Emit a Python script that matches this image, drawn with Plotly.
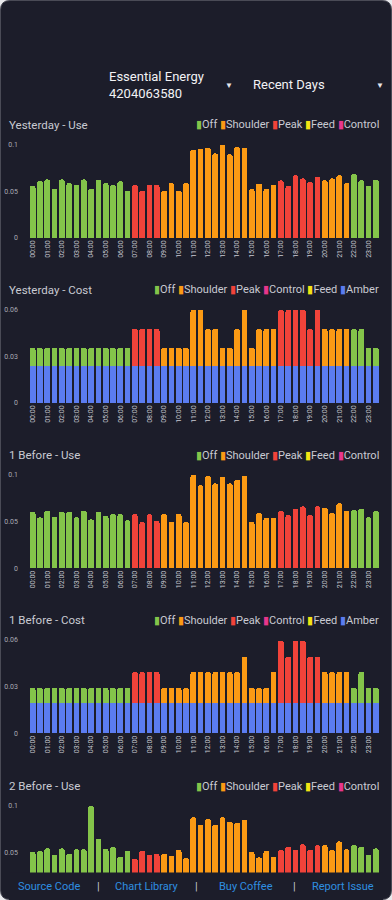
import plotly.graph_objects as go

# ---------------- data ----------------
slots = ["00:00", "00:30", "01:00", "01:30", "02:00", "02:30", "03:00", "03:30",
         "04:00", "04:30", "05:00", "05:30", "06:00", "06:30", "07:00", "07:30",
         "08:00", "08:30", "09:00", "09:30", "10:00", "10:30", "11:00", "11:30",
         "12:00", "12:30", "13:00", "13:30", "14:00", "14:30", "15:00", "15:30",
         "16:00", "16:30", "17:00", "17:30", "18:00", "18:30", "19:00", "19:30",
         "20:00", "20:30", "21:00", "21:30", "22:00", "22:30", "23:00", "23:30"]
tick_labels = ["00:00", "01:00", "02:00", "03:00", "04:00", "05:00", "06:00", "07:00",
               "08:00", "09:00", "10:00", "11:00", "12:00", "13:00", "14:00", "15:00",
               "16:00", "17:00", "18:00", "19:00", "20:00", "21:00", "22:00", "23:00"]

periods = (["Off"] * 14 + ["Peak"] * 4 + ["Shoulder"] * 16 + ["Peak"] * 6
           + ["Shoulder"] * 4 + ["Off"] * 4)

yesterday_use = [0.056, 0.061, 0.063, 0.053, 0.063, 0.059, 0.057, 0.063, 0.053, 0.0625,
                 0.059, 0.057, 0.061, 0.051,
                 0.057, 0.051, 0.057, 0.057,
                 0.051, 0.059, 0.051, 0.059, 0.095, 0.096, 0.097, 0.091, 0.100, 0.090,
                 0.098, 0.097, 0.0525, 0.0586, 0.053, 0.057,
                 0.062, 0.056, 0.0675, 0.064, 0.060, 0.066,
                 0.062, 0.064, 0.0675, 0.059,
                 0.0686, 0.062, 0.056, 0.0625]

yesterday_cost_tariff = [0.0122, 0.0122, 0.0122, 0.0122, 0.0122, 0.0122, 0.0122, 0.0122,
                         0.0122, 0.0122, 0.0122, 0.0122, 0.0122, 0.0122,
                         0.0242, 0.0242, 0.0242, 0.0242,
                         0.0122, 0.0122, 0.0122, 0.0122, 0.0364, 0.0364, 0.0242, 0.0242,
                         0.0122, 0.0122, 0.0242, 0.0364, 0.0122, 0.0242, 0.0242, 0.0242,
                         0.0364, 0.0364, 0.0364, 0.0364, 0.0242, 0.0364,
                         0.0242, 0.0242, 0.0242, 0.0242,
                         0.0242, 0.0242, 0.0122, 0.0122]
yesterday_cost_amber = [0.0236] * 48

before1_use = [0.0607, 0.0546, 0.0618, 0.0554, 0.0604, 0.0604, 0.0546, 0.0618, 0.0525, 0.0604,
               0.056, 0.058, 0.058, 0.0514,
               0.058, 0.0496, 0.058, 0.0507,
               0.0582, 0.050, 0.0582, 0.050, 0.100, 0.089, 0.099, 0.091, 0.098, 0.091,
               0.095, 0.099, 0.050, 0.0596, 0.054, 0.054,
               0.0614, 0.057, 0.064, 0.0664, 0.057, 0.0664,
               0.065, 0.059, 0.0696, 0.0618,
               0.0625, 0.064, 0.0546, 0.0614]

before1_cost_tariff = [0.0101, 0.0101, 0.0101, 0.0101, 0.0101, 0.0101, 0.0101, 0.0101,
                       0.0101, 0.0101, 0.0101, 0.0101, 0.0101, 0.0101,
                       0.0201, 0.0201, 0.0201, 0.0201,
                       0.0101, 0.0101, 0.0101, 0.0101, 0.0201, 0.0201, 0.0201, 0.0201,
                       0.0201, 0.0201, 0.0201, 0.0300, 0.0101, 0.0101, 0.0101, 0.0201,
                       0.0403, 0.0300, 0.0403, 0.0403, 0.0300, 0.0300,
                       0.0201, 0.0201, 0.0201, 0.0201,
                       0.0101, 0.0201, 0.0101, 0.0101]
before1_cost_amber = [0.0193] * 48

before2_use = [0.0507, 0.052, 0.0546, 0.0475, 0.0546, 0.049, 0.0536, 0.0536, 0.100, 0.065,
               0.054, 0.0564, 0.0457, 0.052,
               0.0436, 0.0518, 0.048, 0.0486,
               0.049, 0.0468, 0.053, 0.044, 0.088, 0.080, 0.086, 0.080, 0.088, 0.083,
               0.082, 0.085, 0.0507, 0.045, 0.052, 0.0457,
               0.053, 0.0564, 0.053, 0.059, 0.053, 0.058,
               0.058, 0.053, 0.062, 0.0536,
               0.058, 0.0564, 0.0475, 0.0546]

use_categories = ["Off", "Shoulder", "Peak", "Feed", "Control"]
cost_categories = ["Off", "Shoulder", "Peak", "Control", "Feed", "Amber"]
colors = {"Off": "#84c44a", "Shoulder": "#fb9a14", "Peak": "#f1433a",
          "Feed": "#f3e413", "Control": "#e8368c", "Amber": "#5b7cf0"}

# ---------------- layout helpers ----------------
W, H = 392, 900
BG = "#1c1d2a"
TXT = "#c9cad2"


def fx(px):
    return px / W


def fy(py):
    return 1 - py / H


charts = [
    dict(title="Yesterday - Use", kind="use", use=yesterday_use, top=145, zero=238, ymax=0.1),
    dict(title="Yesterday - Cost", kind="cost", tariff=yesterday_cost_tariff,
         amber=yesterday_cost_amber, top=310, zero=403, ymax=0.06),
    dict(title="1 Before - Use", kind="use", use=before1_use, top=475, zero=568.3, ymax=0.1),
    dict(title="1 Before - Cost", kind="cost", tariff=before1_cost_tariff,
         amber=before1_cost_amber, top=640, zero=733.3, ymax=0.06),
    dict(title="2 Before - Use", kind="use", use=before2_use, top=806, zero=899.3, ymax=0.1),
]

fig = go.Figure()
annotations = []
layout = {}

for i, ch in enumerate(charts, start=1):
    xa = "x" if i == 1 else f"x{i}"
    ya = "y" if i == 1 else f"y{i}"
    bar_kw = dict(xaxis=xa, yaxis=ya, showlegend=False, hoverinfo="x+y+name")
    if ch["kind"] == "use":
        for cat in use_categories:
            vals = [v if p == cat else None for v, p in zip(ch["use"], periods)]
            fig.add_trace(go.Bar(x=slots, y=vals, name=cat,
                                 marker=dict(color=colors[cat], cornerradius=3,
                                             line=dict(width=0)), **bar_kw))
        legend_cats = use_categories
        tickvals = [0, 0.05, 0.1]
        ticktext = ["0", "0.05", "0.1"]
    else:
        fig.add_trace(go.Bar(x=slots, y=ch["amber"], name="Amber",
                             marker=dict(color=colors["Amber"], cornerradius=3,
                                         line=dict(width=0)), **bar_kw))
        for cat in ["Off", "Shoulder", "Peak", "Control", "Feed"]:
            vals = [v if p == cat else None for v, p in zip(ch["tariff"], periods)]
            fig.add_trace(go.Bar(x=slots, y=vals, name=cat,
                                 marker=dict(color=colors[cat], line=dict(width=0)), **bar_kw))
        legend_cats = cost_categories
        tickvals = [0, 0.03, 0.06]
        ticktext = ["0", "0.03", "0.06"]

    xkey = "xaxis" if i == 1 else f"xaxis{i}"
    ykey = "yaxis" if i == 1 else f"yaxis{i}"
    layout[xkey] = dict(domain=[fx(29), fx(379.5)], anchor=ya, type="category",
                        range=[-0.5, 47.5], tickmode="array", tickvals=tick_labels,
                        ticktext=tick_labels, tickangle=-90, showgrid=False, zeroline=False,
                        showline=False, automargin=False, showticklabels=(i < 5),
                        tickfont=dict(size=7, color=TXT), fixedrange=True)
    layout[ykey] = dict(domain=[fy(ch["zero"]), fy(ch["top"])], anchor=xa,
                        range=[0, ch["ymax"]], tickmode="array", tickvals=tickvals,
                        ticktext=ticktext, showgrid=False, zeroline=False, showline=False,
                        automargin=False, ticklabelstandoff=10,
                        tickfont=dict(size=7, color="#a9aab4"), fixedrange=True)

    title_y = ch["top"] - 20
    annotations.append(dict(text=ch["title"], x=fx(7), y=fy(title_y), xref="paper",
                            yref="paper", xanchor="left", yanchor="middle", showarrow=False,
                            font=dict(size=11.5, color=TXT, family="Roboto")))
    leg = " ".join(f'<span style="color:{colors[c]}">▮</span>{c}' for c in legend_cats)
    annotations.append(dict(text=leg, x=fx(381), y=fy(title_y), xref="paper",
                            yref="paper", xanchor="right", yanchor="middle", showarrow=False,
                            font=dict(size=11, color=TXT, family="Roboto")))

# header dropdowns
header = [
    dict(text="Essential Energy<br>4204063580", x=fx(107), y=fy(85), xanchor="left",
         yanchor="middle", align="left", font=dict(size=13, color="#f2f2f5", family="Roboto")),
    dict(text="▼", x=fx(229), y=fy(85), xanchor="center", yanchor="middle",
         font=dict(size=8, color="#e6e6ea")),
    dict(text="Recent Days", x=fx(251), y=fy(84), xanchor="left", yanchor="middle",
         font=dict(size=13, color="#f2f2f5", family="Roboto")),
    dict(text="▼", x=fx(380), y=fy(85), xanchor="center", yanchor="middle",
         font=dict(size=8, color="#e6e6ea")),
]
for a in header:
    a.update(xref="paper", yref="paper", showarrow=False)
annotations += header

# footer links
footer = [("Source Code", 49.5), ("|", 98), ("Chart Library", 147), ("|", 196),
          ("Buy Coffee", 245.5), ("|", 294), ("Report Issue", 343)]
for txt, cx in footer:
    annotations.append(dict(text=txt, x=fx(cx), y=fy(886), xref="paper", yref="paper",
                            xanchor="center", yanchor="middle", showarrow=False,
                            font=dict(size=11, family="Roboto",
                                      color="#c9cad2" if txt == "|" else "#2f8fe0")))

# rounded card outline (paper coordinates)
R = 10
L_, Rt = fx(0.5), fx(W - 0.5)
T_, B_ = fy(0.5), fy(H - 0.5)
card = (f"M {L_},{fy(R)} Q {L_},{T_} {fx(R)},{T_} L {fx(W - R)},{T_} "
        f"Q {Rt},{T_} {Rt},{fy(R)} L {Rt},{fy(H - R)} Q {Rt},{B_} {fx(W - R)},{B_} "
        f"L {fx(R)},{B_} Q {L_},{B_} {L_},{fy(H - R)} Z")

shapes = [
    dict(type="path", xref="paper", yref="paper", path=card, fillcolor=BG,
         line=dict(color="#4a4b56", width=1), layer="below"),
    dict(type="rect", xref="paper", yref="paper", x0=fx(9), x1=fx(W - 9), y0=0,
         y1=fy(872.5), fillcolor=BG, line=dict(width=0), layer="above"),
]

fig.update_layout(
    width=W, height=H, margin=dict(l=0, r=0, t=0, b=0, autoexpand=False),
    paper_bgcolor="#e9e9ec", plot_bgcolor="rgba(0,0,0,0)",
    barmode="stack", bargap=0.22,
    font=dict(family="Roboto", color=TXT),
    annotations=annotations, shapes=shapes,
    **layout,
)

fig.write_html("out.html", config={"displayModeBar": False},
               post_script="document.body.style.margin='0';document.body.style.overflow='hidden';")
